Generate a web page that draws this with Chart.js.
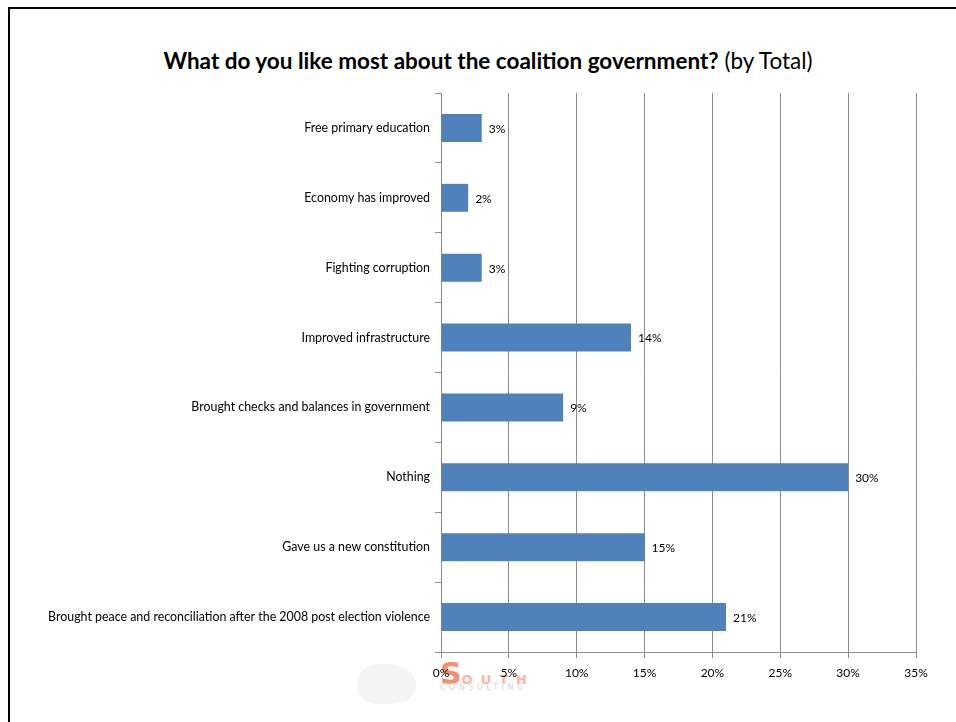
<!DOCTYPE html>
<html>
<head>
<meta charset="utf-8">
<script src="https://cdn.jsdelivr.net/npm/chart.js@4/dist/chart.umd.min.js"></script>
<style>
  body { margin: 0; background: #fff; }
  #wrap { position: relative; width: 956px; height: 722px; overflow: hidden; }
  #frame { position: absolute; left: 8px; top: 7px; width: 960px; height: 720px;
           border-left: 2.5px solid #000; border-top: 2.5px solid #000; }
  #title { position: absolute; left: 0; width: 976px; top: 47px; text-align: center;
           font-family: Lato, sans-serif; font-size: 22.5px; color: #000; }
  #title b { font-weight: bold; }
  #logo { position: absolute; left: 440px; top: 656px; font-family: "DejaVu Sans", sans-serif; opacity: 0.75; }
  #logo .s { color: #f26a3d; font-size: 30px; font-weight: bold; }
  #logo .r { color: #f7a07f; font-size: 13px; letter-spacing: 8px; font-weight: bold; }
  #logo .c { color: #c8c8c8; font-size: 8px; letter-spacing: 3.5px; margin-top: -8px; }
  #map { position: absolute; left: 358px; top: 664px; width: 58px; height: 40px;
         background: #efefef; border-radius: 40% 50% 45% 35%; opacity: 0.7; }
  canvas { position: absolute; left: 0; top: 0; }
</style>
</head>
<body>
<div id="wrap">
  <div id="frame"></div>
  <div id="map"></div>
  <div id="logo"><span class="s">S</span><span class="r">OUTH</span><div class="c">CONSULTING</div></div>
  <div id="title"><b>What do you like most about the coalition government?</b> (by Total)</div>
  <canvas id="myChart" width="956" height="722"></canvas>
</div>
<script>
const categories = [
  'Free primary education',
  'Economy has improved',
  'Fighting corruption',
  'Improved infrastructure',
  'Brought checks and balances in government',
  'Nothing',
  'Gave us a new constitution',
  'Brought peace and reconciliation after the 2008 post election violence'
];
const values = [3, 2, 3, 14, 9, 30, 15, 21];
const xTicks = [0, 5, 10, 15, 20, 25, 30, 35];

// labels at the end of each bar
const barLabels = {
  id: 'barLabels',
  afterDatasetsDraw(chart) {
    const ctx = chart.ctx;
    const meta = chart.getDatasetMeta(0);
    ctx.save();
    ctx.font = '12px Lato, sans-serif';
    ctx.fillStyle = '#000';
    ctx.textBaseline = 'middle';
    meta.data.forEach(function (bar, i) {
      ctx.fillText(values[i] + '%', bar.x + 7, bar.y + 1);
    });
    ctx.restore();
  }
};

const ctx = document.getElementById('myChart').getContext('2d');
const chart = new Chart(ctx, {
  type: 'bar',
  data: {
    labels: categories,
    datasets: [{
      data: values,
      backgroundColor: '#4F81BD',
      borderWidth: 0,
      barPercentage: 0.4,
      categoryPercentage: 1
    }]
  },
  options: {
    indexAxis: 'y',
    responsive: false,
    animation: false,
    layout: { padding: { top: 93, right: 40, bottom: 0, left: 0 } },
    plugins: {
      legend: { display: false },
      tooltip: { enabled: false }
    },
    scales: {
      x: {
        min: 0,
        max: 35,
        afterBuildTicks(scale) {
          scale.ticks = xTicks.map(v => ({ value: v }));
        },
        afterFit(scale) { scale.height = 70; },
        grid: { color: '#8c8c8c', lineWidth: 1, drawTicks: true, tickLength: 6 },
        border: { color: '#8c8c8c' },
        ticks: {
          padding: 8,
          color: '#000',
          font: { family: 'Lato, sans-serif', size: 12 },
          callback: v => v + '%'
        }
      },
      y: {
        afterFit(scale) { scale.width = 441; },
        grid: { drawOnChartArea: false, drawTicks: true, tickLength: 6, color: '#8c8c8c', offset: true },
        border: { color: '#8c8c8c' },
        ticks: {
          padding: 5,
          color: '#000',
          font: { family: 'Lato, sans-serif', size: 12.4 }
        }
      }
    }
  },
  plugins: [barLabels]
});
</script>
</body>
</html>
